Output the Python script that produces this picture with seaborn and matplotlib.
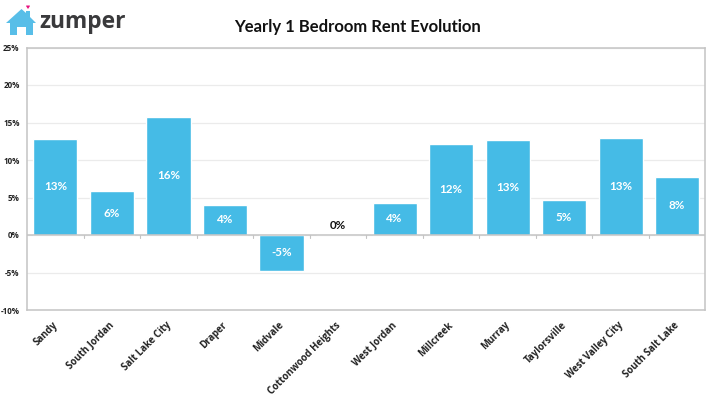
import matplotlib
matplotlib.use("Agg")
import matplotlib.pyplot as plt
from matplotlib.patches import Polygon
from matplotlib.transforms import ScaledTranslation
import pandas as pd
import seaborn as sns

cities = ["Sandy", "South Jordan", "Salt Lake City", "Draper", "Midvale",
          "Cottonwood Heights", "West Jordan", "Millcreek", "Murray",
          "Taylorsville", "West Valley City", "South Salt Lake"]
rent_change = [12.85, 5.85, 15.8, 4.05, -4.8, 0.0, 4.3, 12.15, 12.7, 4.7, 13.0, 7.8]
y_ticks = [-10, -5, 0, 5, 10, 15, 20, 25]
title = "Yearly 1 Bedroom Rent Evolution"
brand = "zumper"

BLUE = "#45BBE6"
W, H = 720, 405

sns.set_theme(style="white")
plt.rcParams["font.family"] = ["Lato", "DejaVu Sans"]

fig = plt.figure(figsize=(W / 100, H / 100), dpi=100, facecolor="white")
ax = fig.add_axes([27.2 / W, 1 - 310 / H, (705.4 - 27.2) / W, (310 - 47.5) / H])

df = pd.DataFrame({"city": cities, "change": rent_change})
sns.barplot(data=df, x="city", y="change", color=BLUE, saturation=1,
            width=0.78, ax=ax, zorder=3)

ax.set_xlim(-0.5, len(cities) - 0.5)
ax.set_ylim(y_ticks[0], y_ticks[-1])
ax.set_xlabel("")
ax.set_ylabel("")
ax.set_yticks(y_ticks)
ax.set_yticklabels([f"{t}%" for t in y_ticks], fontsize=5.8, fontweight="bold",
                   color="#222222", family=["Open Sans", "DejaVu Sans"])
ax.tick_params(axis="y", length=0, pad=5.5)

ax.grid(axis="y", color="#EBEBEB", linewidth=0.9, zorder=0)
ax.set_axisbelow(True)
for side in ax.spines.values():
    side.set_color("#C4C4C4")
    side.set_linewidth(1.1)

# Slanted category names, nudged to the left of their anchors
ax.set_xticks(range(len(cities)))
ax.set_xticklabels(cities, rotation=45, ha="right", rotation_mode="anchor",
                   fontsize=6.9, fontweight="bold", color="#222222",
                   family=["Open Sans", "DejaVu Sans"])
ax.tick_params(axis="x", length=0, pad=7)
nudge = ScaledTranslation(-3 / 100, 0, fig.dpi_scale_trans)
for label in ax.get_xticklabels():
    label.set_transform(label.get_transform() + nudge)

ax.axhline(0, color="#C4C4C4", linewidth=1.1, zorder=4)
for boundary in range(1, len(cities)):
    ax.plot([boundary - 0.5, boundary - 0.5], [-0.35, 0], color="#C4C4C4",
            linewidth=0.8, zorder=2, clip_on=False)

for i, v in enumerate(rent_change):
    ax.text(i, v / 2 if v else 1.25, f"{round(v)}%", ha="center", va="center",
            fontsize=8.4, fontweight="bold", color="white" if v else "#111111",
            zorder=5)

fig.text(357.5 / W, 1 - 27 / H, title, ha="center", va="center", fontsize=12,
         fontweight="bold", color="#111111")

# Brand mark: house with a door cut-out and a heart over the chimney, then the wordmark
logo = fig.add_axes([0, 0, 1, 1], facecolor="none")
logo.set_xlim(0, W)
logo.set_ylim(H, 0)
logo.axis("off")
logo.add_patch(Polygon([(6, 23), (21.5, 9), (26, 13), (26, 11), (30, 11), (30, 17),
                        (36, 23), (33, 23), (33, 35), (26, 35), (26, 27),
                        (17, 27), (17, 35), (10, 35), (10, 23)],
                       closed=True, facecolor="#58BEE8", edgecolor="none"))
logo.add_patch(Polygon([(26, 6), (27, 5.2), (28, 5.8), (29, 5.2), (30, 6), (28, 9)],
                       closed=True, facecolor="#E8127F", edgecolor="none"))
logo.text(39.5, 22.5, brand, ha="left", va="center", fontsize=16.4,
          fontweight="bold", color="#3A3A3C", family=["Open Sans", "DejaVu Sans"])

fig.savefig("out.png", dpi=100, facecolor="white")
